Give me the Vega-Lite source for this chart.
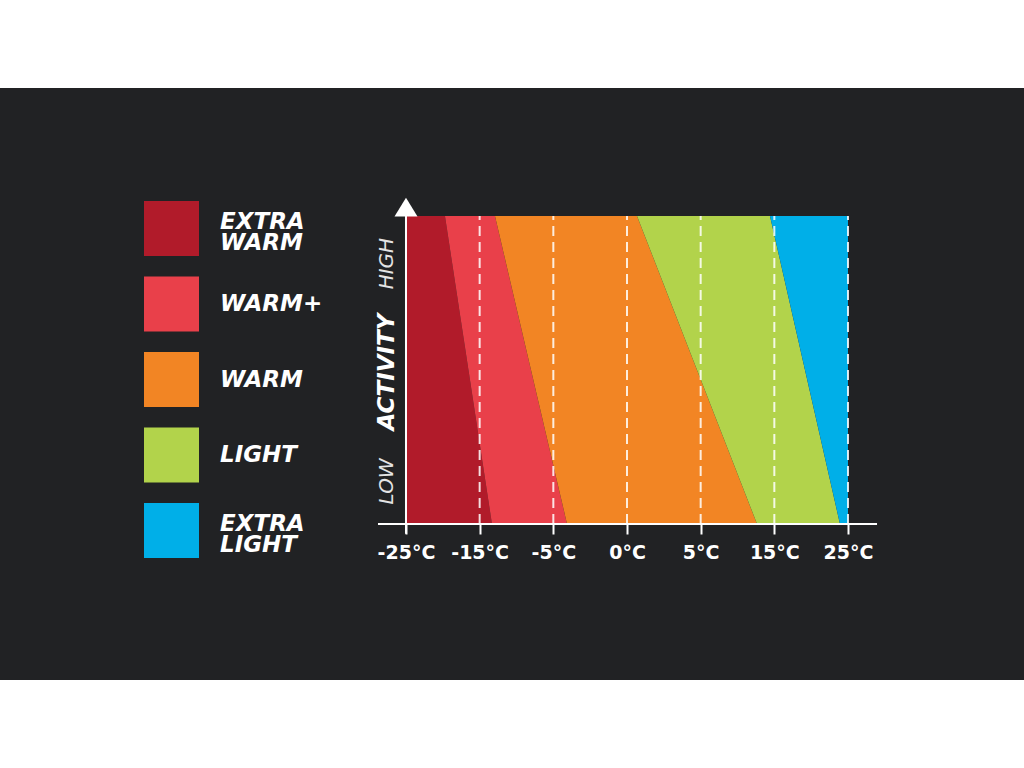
{
  "$schema": "https://vega.github.io/schema/vega-lite/v6.json",
  "width": 1024,
  "height": 592,
  "autosize": {"type": "none"},
  "padding": {"top": 88, "bottom": 88, "left": 0, "right": 0},
  "background": "#ffffff",
  "config": {
    "view": {"fill": "#212224", "stroke": null},
    "style": {"guide-label": {"lineHeight": 21}}
  },
  "datasets": {
    "bands": [
      {"band": "EXTRA WARM", "act": 0, "lo": 0, "hi": 1.167},
      {"band": "EXTRA WARM", "act": 1, "lo": 0, "hi": 0.529},
      {"band": "WARM+", "act": 0, "lo": 1.167, "hi": 2.186},
      {"band": "WARM+", "act": 1, "lo": 0.529, "hi": 1.208},
      {"band": "WARM", "act": 0, "lo": 2.186, "hi": 4.765},
      {"band": "WARM", "act": 1, "lo": 1.208, "hi": 3.136},
      {"band": "LIGHT", "act": 0, "lo": 4.765, "hi": 5.891},
      {"band": "LIGHT", "act": 1, "lo": 3.136, "hi": 4.941},
      {"band": "EXTRA LIGHT", "act": 0, "lo": 5.891, "hi": 6},
      {"band": "EXTRA LIGHT", "act": 1, "lo": 4.941, "hi": 6}
    ],
    "grid": [
      {"t": 1}, {"t": 2}, {"t": 3}, {"t": 4}, {"t": 5}, {"t": 6}
    ],
    "one": [{"k": 1}]
  },
  "layer": [
    {
      "data": {"name": "bands"},
      "mark": {"type": "area", "orient": "horizontal", "opacity": 1},
      "encoding": {
        "y": {
          "field": "act", "type": "quantitative",
          "scale": {"domain": [-0.5065, 1.4156], "nice": false, "zero": false},
          "axis": {
            "orient": "left", "offset": -406, "domain": false, "ticks": false, "tickSize": 0, "grid": false, "title": null, "zindex": 2,
            "values": [0.14, 0.495, 0.847],
            "labelExpr": "datum.value < 0.3 ? 'LOW' : (datum.value < 0.6 ? 'ACTIVITY' : 'HIGH')",
            "labelAngle": -90, "labelAlign": "center", "labelBaseline": "middle", "labelPadding": 20,
            "labelFont": "DejaVu Sans", "labelFontStyle": "italic",
            "labelFontSize": {"condition": {"test": "datum.value > 0.3 && datum.value < 0.6", "value": 23}, "value": 20},
            "labelFontWeight": {"condition": {"test": "datum.value > 0.3 && datum.value < 0.6", "value": "bold"}, "value": 200},
            "labelColor": {"condition": {"test": "datum.value > 0.3 && datum.value < 0.6", "value": "#ffffff"}, "value": "#e4e4e4"},
            "labelOverlap": false
          }
        },
        "x": {
          "field": "lo", "type": "quantitative", "stack": null,
          "scale": {"domain": [-5.511, 8.389], "nice": false, "zero": false},
          "axis": {
            "orient": "bottom", "offset": -156, "domain": false, "grid": false, "title": null, "zindex": 2,
            "values": [0, 1, 2, 3, 4, 5, 6],
            "ticks": true, "tickSize": 10, "tickWidth": 2, "tickColor": "#ffffff",
            "labelExpr": "['-25°C','-15°C','-5°C','0°C','5°C','15°C','25°C'][datum.value]",
            "labelFont": "DejaVu Sans", "labelFontSize": 19, "labelFontWeight": "bold", "labelColor": "#ffffff",
            "labelPadding": 9, "labelOverlap": false
          }
        },
        "x2": {"field": "hi"},
        "color": {
          "field": "band", "type": "nominal",
          "scale": {
            "domain": ["EXTRA WARM", "WARM+", "WARM", "LIGHT", "EXTRA LIGHT"],
            "range": ["#b11b2a", "#e9404a", "#f28524", "#b2d34b", "#00afe8"]
          },
          "legend": {
            "orient": "none", "legendX": 144, "legendY": 113, "direction": "vertical",
            "title": null, "padding": 0,
            "symbolType": "square", "symbolSize": 3025, "symbolStrokeWidth": 0, "symbolOpacity": 1,
            "labelExpr": "split(datum.label, ' ')",
            "labelBaseline": {"expr": "indexof(datum.label, ' ') > 0 ? 'alphabetic' : 'middle'"},
            "labelFont": "DejaVu Sans", "labelFontSize": 23, "labelFontWeight": "bold", "labelFontStyle": "italic",
            "labelColor": "#ffffff", "labelOffset": 21, "rowPadding": 20.5, "labelLimit": 300
          }
        }
      }
    },
    {
      "data": {"name": "grid"},
      "mark": {"type": "rule", "color": "#ffffff", "opacity": 0.85, "strokeWidth": 2, "strokeDash": [10, 6]},
      "encoding": {
        "x": {"field": "t", "type": "quantitative"},
        "y": {"datum": 0, "type": "quantitative"},
        "y2": {"datum": 1}
      }
    },
    {
      "data": {"name": "one"},
      "mark": {"type": "rule", "color": "#ffffff", "strokeWidth": 2},
      "encoding": {
        "x": {"datum": -0.38, "type": "quantitative"},
        "x2": {"datum": 6.394},
        "y": {"datum": 0, "type": "quantitative"}
      }
    },
    {
      "data": {"name": "one"},
      "mark": {"type": "rule", "color": "#ffffff", "strokeWidth": 2},
      "encoding": {
        "x": {"datum": 0, "type": "quantitative"},
        "y": {"datum": -0.032, "type": "quantitative"},
        "y2": {"datum": 1}
      }
    },
    {
      "data": {"name": "one"},
      "mark": {"type": "point", "shape": "M-1,0.82L0,-0.82L1,0.82Z", "filled": true, "color": "#ffffff", "opacity": 1, "size": 529, "strokeWidth": 0},
      "encoding": {
        "x": {"datum": 0, "type": "quantitative"},
        "y": {"datum": 1.029, "type": "quantitative"}
      }
    }
  ]
}
